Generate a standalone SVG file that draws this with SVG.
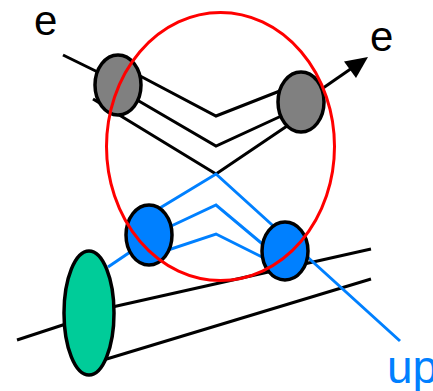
<svg xmlns="http://www.w3.org/2000/svg" width="433" height="391" viewBox="0 0 433 391">
<style>
.k{stroke:#000;stroke-width:3;fill:none;stroke-linejoin:miter}
.b{stroke:#0080ff;stroke-width:3;fill:none}
.node{stroke:#000;stroke-width:3.5}
.lbl{font-family:"Liberation Sans",Arial,sans-serif}
</style>
<g id="connectors">
<line class="k" x1="63" y1="55" x2="112" y2="79"/>
<polyline class="k" points="125,68 216,116 290,87"/>
<polyline class="k" points="120,90 216,146 290,112"/>
<polyline class="k" points="93,99 216,174 290,124"/>
<line class="k" x1="300" y1="104" x2="352" y2="68"/>
<polygon points="368,57 344,61.5 356,78" fill="#000"/>
<line class="k" x1="17" y1="340" x2="78" y2="320"/>
<line class="k" x1="90" y1="312" x2="371" y2="249"/>
<line class="k" x1="100" y1="361" x2="371" y2="279"/>
<polyline class="b" points="150,214 216,174 400,341"/>
<polyline class="b" points="150,236 216,205 272,252"/>
<polyline class="b" points="150,256 216,234 272,262"/>
<line class="b" x1="108" y1="267" x2="142" y2="244"/>
</g>
<g id="gray-left"><ellipse class="node" cx="118" cy="85" rx="23" ry="30" fill="#808080"/></g>
<g id="gray-right"><ellipse class="node" cx="301" cy="102" rx="23" ry="30" fill="#808080"/></g>
<g id="blue-left"><ellipse class="node" cx="149" cy="235" rx="23" ry="30" fill="#0080ff"/></g>
<g id="blue-right"><ellipse class="node" cx="285" cy="251" rx="23" ry="29" fill="#0080ff"/></g>
<g id="green"><ellipse class="node" cx="89" cy="313" rx="25" ry="62" fill="#00cc99"/></g>
<g id="red-circle"><ellipse cx="220.5" cy="146.5" rx="114" ry="134" fill="none" stroke="#ff0000" stroke-width="3"/></g>
<g id="labels">
<text class="lbl" x="34" y="35" font-size="42" fill="#000">e</text>
<text class="lbl" x="370" y="51" font-size="42" fill="#000">e</text>
<text class="lbl" x="387" y="383" font-size="46" fill="#0080ff">up</text>
</g>
</svg>
